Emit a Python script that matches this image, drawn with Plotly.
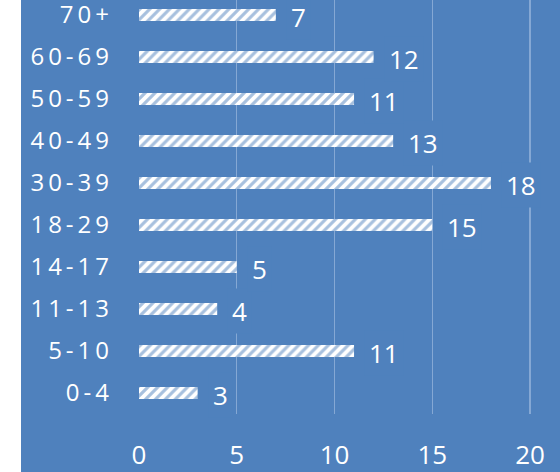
import plotly.graph_objects as go

categories = ["0-4", "5-10", "11-13", "14-17", "18-29", "30-39", "40-49", "50-59", "60-69", "70+"]
values = [3, 11, 4, 5, 15, 18, 13, 11, 12, 7]
x_ticks = [0, 5, 10, 15, 20]

BLUE = "#4F81BD"
W, H = 560, 472
FONT = "Open Sans"

spaced = ["\u2009".join(list(c)) for c in categories]

fig = go.Figure()
fig.add_trace(go.Bar(
    y=categories, x=values, orientation="h", width=0.29,
    marker=dict(color="white", line=dict(width=0),
                pattern=dict(shape="/", fgcolor=BLUE, bgcolor="white",
                             size=7, solidity=0.45, fillmode="overlay")),
    hoverinfo="skip",
))

for c, v in zip(categories, values):
    fig.add_annotation(x=v, y=c, text=str(v), showarrow=False, xanchor="left",
                       xshift=10, yshift=-2, bgcolor=BLUE, borderpad=4,
                       font=dict(family=FONT, size=26, color="white"))

fig.add_shape(type="rect", xref="paper", yref="paper", x0=21 / W, x1=1,
              y0=0, y1=1, fillcolor=BLUE, line_width=0, layer="below")

fig.update_layout(
    width=W, height=H, margin=dict(l=0, r=0, t=0, b=0, autoexpand=False),
    paper_bgcolor="white", plot_bgcolor=BLUE, showlegend=False,
    xaxis=dict(domain=[139 / W, 1], range=[0, 421 / 19.55], tickvals=x_ticks,
               showgrid=True, gridcolor="rgba(200,215,240,0.45)", gridwidth=1.3,
               zeroline=False, showline=False, ticks="", ticklabelstandoff=23,
               automargin=False,
               tickfont=dict(family=FONT, size=26, color="white")),
    yaxis=dict(domain=[1 - 414 / H, 1], range=[-0.5, -0.5 + 414 / 42],
               tickvals=categories, ticktext=spaced, showgrid=False,
               zeroline=False, showline=False, ticks="", ticklabelstandoff=29,
               automargin=False,
               tickfont=dict(family=FONT, size=24, color="white")),
)

fig.write_html("out.html", config={"displayModeBar": False, "staticPlot": True},
               post_script="document.body.style.margin='0';document.body.style.overflow='hidden';")
